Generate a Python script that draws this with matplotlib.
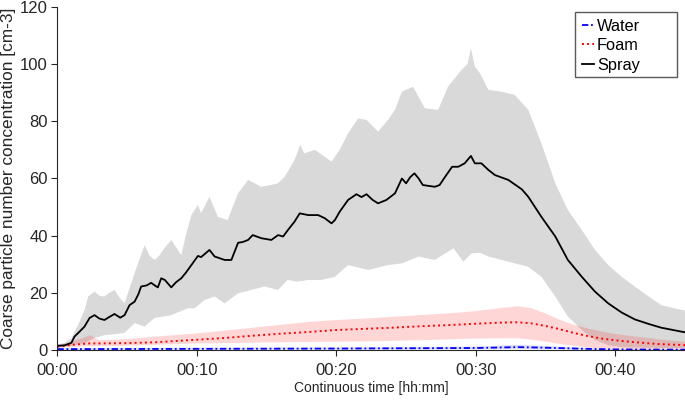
import matplotlib
matplotlib.use("Agg")
import matplotlib.pyplot as plt
from matplotlib.patches import Rectangle
import numpy as np

plt.rcParams['font.family'] = ['Liberation Sans', 'DejaVu Sans']

# spray (mean and spread), times in minutes
t_spray = [0, 0.5, 1.0, 1.22, 1.6, 1.94, 2.3, 2.66, 3.0, 3.37, 3.7, 4.09, 4.5, 4.81, 5.17, 5.53, 5.8,
           6.0, 6.4, 6.72, 7.0, 7.2, 7.44, 7.7, 8.16, 8.5, 8.88, 9.2, 9.6, 10.07, 10.3, 10.9, 11.27,
           11.99, 12.47, 12.95, 13.3, 13.67, 14.0, 14.62, 15.34, 15.82, 16.18, 16.53, 17.0, 17.37,
           17.97, 18.69, 19.17, 19.65, 19.9, 20.24, 20.84, 21.44, 21.8, 22.16, 22.6, 22.99, 23.59,
           24.2, 24.7, 25.0, 25.3, 25.6, 25.9, 26.2, 27.06, 27.4, 27.8, 28.3, 28.74, 29.2, 29.65,
           29.93, 30.4, 30.9, 31.37, 32.33, 33.3, 33.76, 34.7, 35.7, 36.6, 37.6, 38.55, 39.5, 40.46,
           41.4, 42.4, 43.3, 44.77, 45]
spray_mean = [1.5, 1.6, 2.5, 4.7, 6.5, 8.2, 11.2, 12.2, 11.0, 10.5, 11.5, 12.6, 11.3, 12.2, 15.7, 16.9, 19.5,
              22.2, 22.6, 23.5, 22.5, 21.9, 25.1, 24.5, 21.9, 23.7, 25.1, 27.0, 29.7, 32.9, 32.5, 35.0, 32.7,
              31.5, 31.5, 37.5, 37.8, 38.5, 40.2, 39.1, 38.5, 40.2, 39.7, 42.0, 44.9, 47.8,
              47.2, 47.2, 46.1, 44.3, 45.5, 48.4, 52.5, 54.5, 53.5, 54.5, 52.5, 51.3, 52.5,
              54.8, 60.0, 58.3, 60.5, 61.8, 60.0, 57.7, 57.1, 57.7, 60.6, 64.1, 64.1, 65.3, 67.9,
              65.3, 65.3, 63.0, 61.2, 59.5, 56.2, 53.6, 46.6, 39.7, 31.5, 25.6, 20.4, 16.3, 13.1,
              10.7, 9.1, 7.8, 6.4, 6.2]

t_spray_hi = [0, 0.5, 1.0, 1.5, 1.94, 2.2, 2.66, 3.0, 3.37, 3.7, 4.09, 4.5, 4.81, 5.2, 5.53, 5.9, 6.25,
              6.6, 6.96, 7.3, 7.68, 8.16, 8.5, 8.88, 9.2, 9.6, 10.07, 10.3, 10.9, 11.5, 12.2, 12.95,
              13.67, 14.15, 14.6, 15.3, 15.8, 16.3, 17.0, 17.4, 17.7, 18.45, 19.17, 19.65, 20.24,
              20.84, 21.56, 22.16, 22.99, 23.7, 24.2, 24.7, 25.5, 26.34, 27.3, 28.0, 28.98, 29.4,
              29.65, 29.93, 30.3, 30.9, 31.85, 32.8, 33.76, 34.7, 35.7, 36.6, 37.6, 38.55, 39.5,
              40.46, 41.4, 42.4, 43.3, 44.77, 45]
spray_hi = [1.8, 2.5, 4.0, 9.0, 14.0, 18.7, 20.4, 19.0, 18.7, 20.0, 21.0, 18.0, 16.4, 22.0, 26.9, 32.0, 36.7,
            33.0, 31.5, 33.0, 35.7, 38.5, 36.0, 33.2, 40.0, 47.2, 50.7, 47.9, 53.6, 46.6, 45.5, 54.8,
            59.5, 58.3, 57.1, 57.7, 58.3, 60.6, 66.5, 71.7, 68.8, 70.0, 67.6, 65.9, 70.0,
            75.8, 81.0, 80.5, 76.4, 80.5, 84.0, 90.4, 92.1, 84.6, 84.0, 92.1, 98.0, 100.0,
            105.6, 99.1, 96.8, 91.0, 90.4, 89.2, 84.0, 72.3, 58.3, 49.0, 42.0, 35.0, 29.7,
            25.6, 22.2, 18.7, 15.7, 14.0, 13.8]

t_spray_lo = [0, 1.0, 1.94, 2.66, 3.37, 4.09, 4.81, 5.53, 6.25, 6.96, 8.16, 9.36, 9.83, 10.55, 11.27,
              11.99, 12.95, 13.9, 14.86, 15.82, 16.5, 17.2, 17.97, 18.93, 19.89, 20.84, 22.3, 23.7,
              24.7, 25.9, 27.06, 28.4, 29.1, 29.7, 30.3, 30.9, 31.85, 32.8, 33.76, 34.7, 35.7, 36.6,
              37.6, 38.55, 39.5, 40.46, 42, 45]
spray_lo = [1.2, 1.5, 2.4, 4.2, 5.2, 5.5, 6.0, 9.4, 8.2, 11.2, 12.2, 14.6, 14.6, 17.5, 18.7,
            16.3, 19.8, 21.0, 22.2, 21.0, 24.5, 23.9, 24.5, 24.5, 25.6, 29.7, 28.0, 29.7,
            30.3, 32.7, 31.5, 35.6, 30.9, 33.8, 34.0, 32.7, 31.5, 30.3, 29.1, 25.6, 18.7, 11.7,
            7.0, 3.5, 1.7, 1.0, 0.8, 0.6]

# foam
t_foam = [0, 1, 2, 2.3, 3, 5, 7, 10, 12, 14, 16, 18, 20, 22, 24, 26, 28, 30, 32, 33, 34, 35, 36,
          37, 38, 39, 40, 41, 42, 43, 44, 45]
foam_mean = [1.2, 1.8, 2.2, 2.3, 2.3, 2.4, 2.7, 3.6, 4.2, 5.0, 5.7, 6.3, 7.0, 7.4, 7.8, 8.3, 8.7, 9.2,
             9.6, 9.7, 9.3, 8.4, 7.3, 6.0, 4.9, 4.0, 3.4, 2.9, 2.5, 2.1, 1.9, 1.7]
foam_hi = [1.6, 2.8, 4.5, 5.2, 3.4, 3.8, 4.7, 5.8, 6.8, 7.8, 8.8, 9.8, 10.5, 11.0, 11.6, 12.2, 12.8,
           13.6, 14.8, 15.3, 14.6, 12.8, 10.6, 8.9, 7.6, 6.5, 5.6, 5.0, 4.4, 3.8, 3.3, 2.9]
foam_lo = [0.7, 1.0, 1.3, 1.3, 1.4, 1.5, 1.8, 2.3, 2.4, 2.6, 2.7, 2.8, 2.9, 3.0, 3.2, 3.4, 3.7, 4.0,
           4.1, 4.1, 3.6, 2.9, 2.1, 1.5, 0.9, 0.6, 0.4, 0.35, 0.3, 0.3, 0.3, 0.3]

# water
t_water = [0, 10, 20, 30, 33, 35, 38, 40, 45]
water_mean = [0.3, 0.4, 0.5, 0.7, 1.0, 0.8, 0.4, 0.2, 0.1]
water_hi = [0.6, 0.8, 0.9, 1.2, 1.8, 1.4, 0.7, 0.4, 0.3]
water_lo = [0.1, 0.15, 0.2, 0.3, 0.4, 0.3, 0.15, 0.05, 0.0]

xticks = [0, 10, 20, 30, 40]
xtick_labels = ['00:00', '00:10', '00:20', '00:30', '00:40']
yticks = [0, 20, 40, 60, 80, 100, 120]


def band(ax, t_hi, hi, t_lo, lo, color, alpha):
    # polygon: upper edge forward, lower edge back
    xs = list(t_hi) + list(t_lo)[::-1]
    ys = list(hi) + list(lo)[::-1]
    ax.fill(xs, ys, color=color, alpha=alpha, lw=0)


fig = plt.figure(figsize=(6.85, 4.01), dpi=100)
ax = fig.add_axes([0.0839, 0.1272, 0.9161, 0.8554])

band(ax, t_spray_hi, spray_hi, t_spray_lo, spray_lo, 'black', 0.15)
band(ax, t_foam, foam_hi, t_foam, foam_lo, 'red', 0.16)
band(ax, t_water, water_hi, t_water, water_lo, 'blue', 0.15)

ax.plot(t_water, water_mean, color='blue', ls=(0, (3.5, 1.5, 1, 1.5)), lw=1.3, label='Water')
ax.plot(t_foam, foam_mean, color='red', ls=':', lw=1.4, label='Foam')
ax.plot(t_spray, spray_mean, color='black', ls='-', lw=1.3, label='Spray')

ax.set_xlim(0, 45)
ax.set_ylim(0, 120)
ax.set_xticks(xticks)
ax.set_xticklabels(xtick_labels)
ax.set_yticks(yticks)
ax.tick_params(direction='out', length=4.5, width=0.8, colors='#262626', labelsize=12)
ax.tick_params(axis='x', pad=5)
ax.tick_params(axis='y', pad=2.5)
for side in ['top', 'right']:
    ax.spines[side].set_visible(False)
for side in ['left', 'bottom']:
    ax.spines[side].set_color('#262626')
    ax.spines[side].set_linewidth(0.8)

ax.set_xlabel('Continuous time [hh:mm]', fontsize=10, color='#262626', labelpad=2)
ax.set_ylabel('Coarse particle number concentration [cm-3]', fontsize=12.4, color='#262626',
              labelpad=3)

# legend box is wider than its entries, so draw the frame separately
ax.add_patch(Rectangle((0.8247, 0.7959), 0.1626, 0.1895, transform=ax.transAxes,
                       facecolor='white', edgecolor='#5a5a5a', lw=1.0, zorder=4))
leg = ax.legend(loc='upper left', bbox_to_anchor=(0.8247, 0.9854), fontsize=11.8, frameon=False,
                handlelength=0.75, handletextpad=0.2, borderpad=0.4,
                labelspacing=0.28, borderaxespad=0)
leg.set_zorder(5)

fig.savefig('out.png', dpi=100)
